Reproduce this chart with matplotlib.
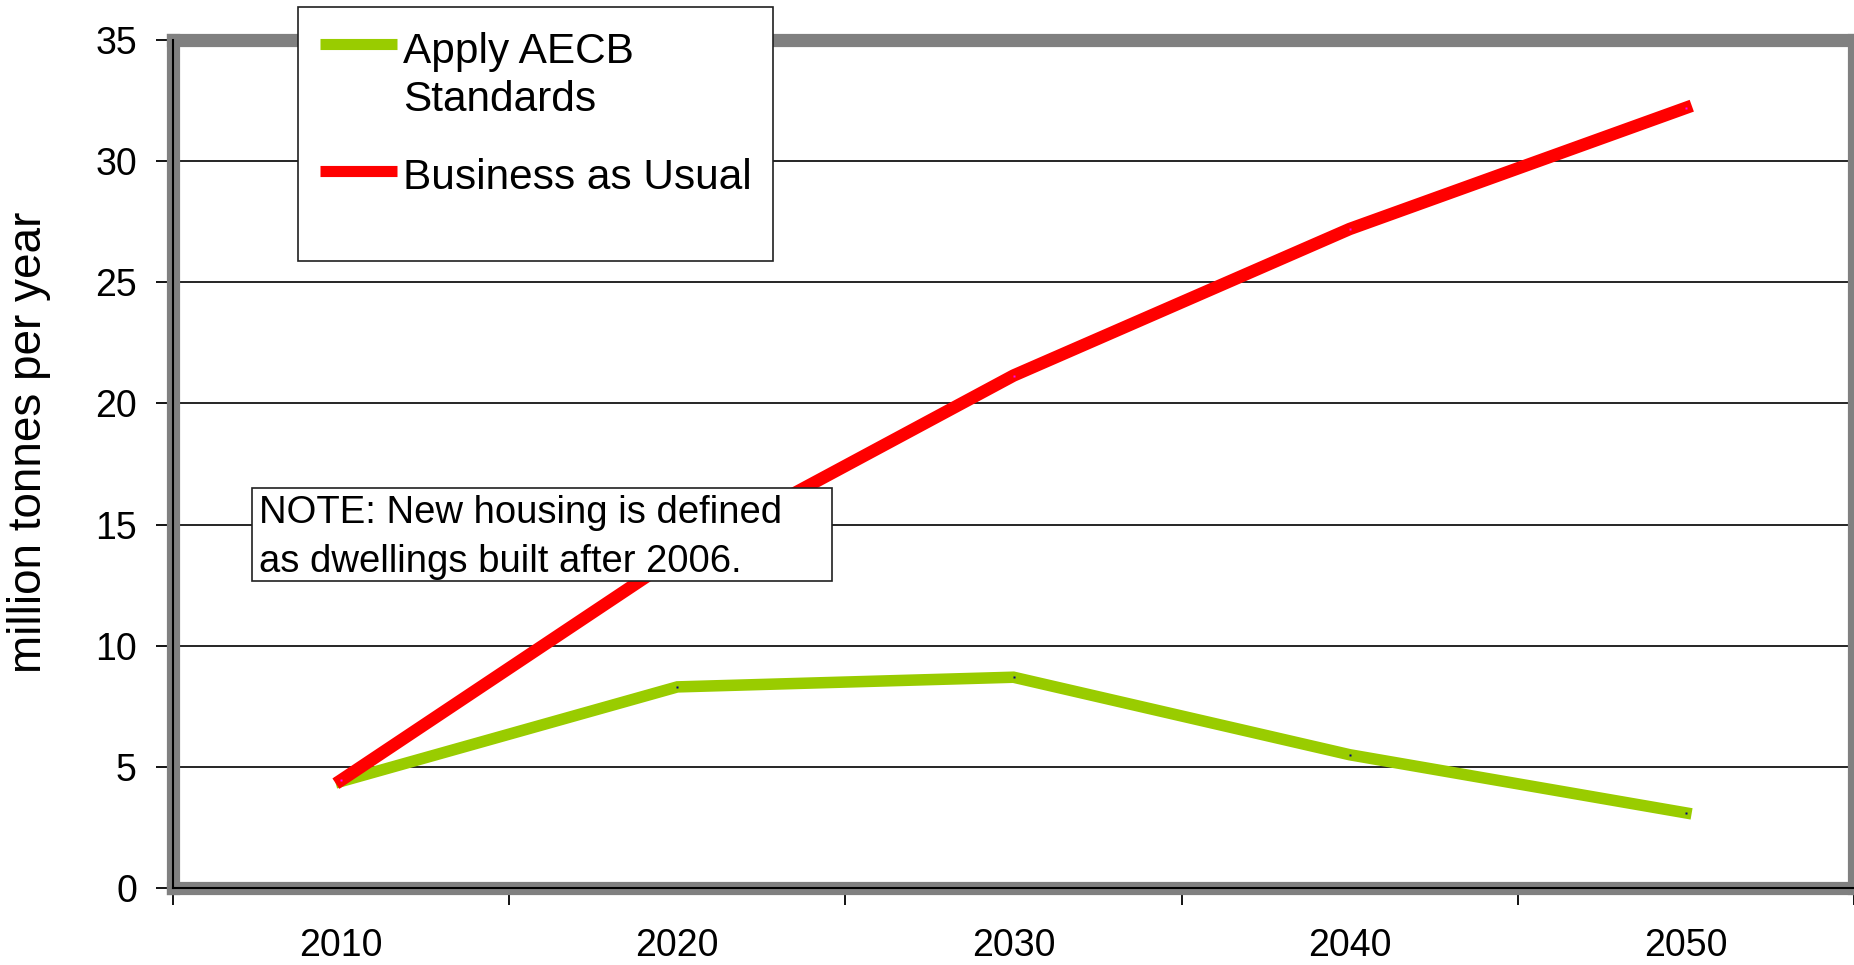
import matplotlib
matplotlib.use('Agg')
import matplotlib.pyplot as plt
from matplotlib.patches import Rectangle
from matplotlib.lines import Line2D

plt.rcParams['font.family'] = ['Liberation Sans', 'DejaVu Sans']

# Emissions from new housing, million tonnes per year
years = ['2010', '2020', '2030', '2040', '2050']
aecb = [4.4, 8.3, 8.7, 5.5, 3.1]
business_as_usual = [4.45, 13.7, 21.15, 27.2, 32.2]
y_ticks = [0, 5, 10, 15, 20, 25, 30, 35]

W, H = 1854, 965
fig = plt.figure(figsize=(W / 100, H / 100), dpi=100)
ax = fig.add_axes([173 / W, 77 / H, 1681 / W, 848 / H])

x = list(range(len(years)))
ax.plot(x, aecb, color='#99CC00', lw=8.3, solid_capstyle='projecting',
        solid_joinstyle='miter', marker='s', ms=1.5, mfc='#000080', mec='none', zorder=4)
ax.plot(x, business_as_usual, color='#FF0000', lw=9, solid_capstyle='projecting',
        solid_joinstyle='miter', marker='s', ms=2, mfc='#FF00FF', mec='none', zorder=4)

ax.set_xlim(-0.5, len(years) - 0.5)
ax.set_ylim(0, 35)

# category axis: tick marks between categories, labels centred
ax.set_xticks([i - 0.5 for i in range(len(years) + 1)])
ax.set_xticklabels([])
ax.set_xticks(x, minor=True)
ax.set_xticklabels(years, minor=True, fontsize=27)
ax.tick_params(axis='x', which='major', direction='out', length=12, width=1.3, color='black')
ax.tick_params(axis='x', which='minor', length=0, pad=29)

ax.set_yticks(y_ticks)
ax.set_yticklabels([str(v) for v in y_ticks], fontsize=27)
ax.tick_params(axis='y', direction='out', length=12, width=1.3, color='black', pad=14)

ax.grid(axis='y', color='black', lw=1.2, zorder=1)
ax.set_axisbelow(True)

for s in ax.spines.values():
    s.set_color('#808080')
    s.set_linewidth(9.5)

ax.axhline(0, color='black', lw=1.5, zorder=3, clip_on=False)
ax.axvline(-0.5, color='black', lw=1.5, zorder=3, clip_on=False)

ax.set_ylabel('million tonnes per year', fontsize=33)
ax.yaxis.set_label_coords(-0.0726, 0.526)

# legend box
fig.patches.append(Rectangle((298 / W, 1 - 261 / H), 475 / W, 254 / H,
                             transform=fig.transFigure, facecolor='white',
                             edgecolor='#202020', lw=1.2, zorder=5))
fig.lines.append(Line2D([320 / W, 397 / W], [1 - 44 / H] * 2, transform=fig.transFigure,
                        color='#99CC00', lw=8, solid_capstyle='butt', zorder=6))
fig.lines.append(Line2D([320 / W, 397 / W], [1 - 171 / H] * 2, transform=fig.transFigure,
                        color='#FF0000', lw=8, solid_capstyle='butt', zorder=6))
fig.text(403 / W, 1 - 63 / H, 'Apply AECB', fontsize=30.5, va='baseline',
         ha='left', zorder=7)
fig.text(403 / W, 1 - 111 / H, 'Standards', fontsize=30.5, va='baseline',
         ha='left', zorder=7)
fig.text(403 / W, 1 - 189 / H, 'Business as Usual', fontsize=30.5, va='baseline',
         ha='left', zorder=7)

# note box
fig.patches.append(Rectangle((252 / W, 1 - 581 / H), 580 / W, 93 / H,
                             transform=fig.transFigure, facecolor='white',
                             edgecolor='#202020', lw=1.2, zorder=5))
fig.text(259 / W, 1 - 523 / H, 'NOTE: New housing is defined',
         fontsize=27.5, va='baseline', ha='left', zorder=7)
fig.text(259 / W, 1 - 572 / H, 'as dwellings built after 2006.',
         fontsize=27.5, va='baseline', ha='left', zorder=7)

fig.savefig('out.png', dpi=100)
